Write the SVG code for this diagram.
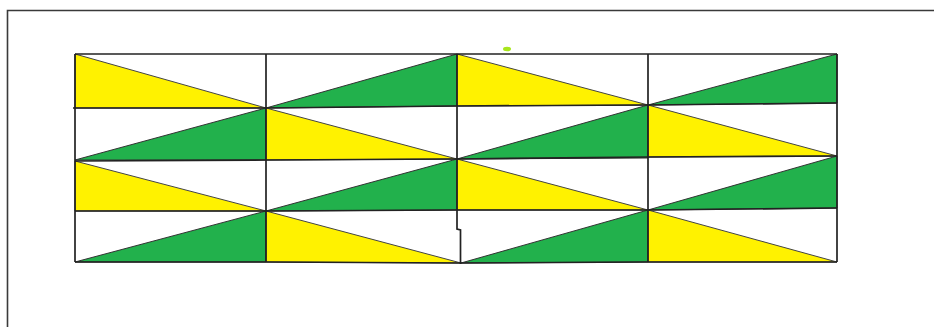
<svg xmlns="http://www.w3.org/2000/svg" width="934" height="327" viewBox="0 0 934 327">
<style>
.y{fill:#FFF200;stroke:#444;stroke-width:1}
.g{fill:#22B14C;stroke:#333;stroke-width:1}
.ln{stroke:#222;stroke-width:1.7;fill:none}
.fr{stroke:#3a3a3a;stroke-width:1.6;fill:none}
</style>
<rect width="934" height="327" fill="#fff"/>
<g id="frame">
<path class="fr" d="M7.5 327 V10.5 H934"/>
</g>
<g id="triangles">
<polygon class="y" points="75,54 75,108 266,108"/>
<polygon class="g" points="266,108 457,54 457,106"/>
<polygon class="y" points="457,54 457,106 648,105"/>
<polygon class="g" points="648,105 837,54 837,103"/>
<polygon class="g" points="75,160 266,108 266,160"/>
<polygon class="y" points="266,108 266,160 457,159"/>
<polygon class="g" points="457,159 648,105 648,158"/>
<polygon class="y" points="648,105 648,157 837,156"/>
<polygon class="y" points="75,161 75,211 266,211"/>
<polygon class="g" points="266,211 457,159 457,210"/>
<polygon class="y" points="457,159 457,210 648,210"/>
<polygon class="g" points="648,210 837,156 837,208"/>
<polygon class="g" points="75,262 266,211 266,262"/>
<polygon class="y" points="266,211 266,262 461,263"/>
<polygon class="g" points="461,263 648,210 648,262"/>
<polygon class="y" points="648,210 648,262 837,262"/>
</g>
<g id="grid">
<path class="ln" d="M75 54 H837"/>
<path class="ln" d="M73 108 L266 108 L457 106 L648 105 L837 103"/>
<path class="ln" d="M75 161 L266 160 L457 159 L648 157 L837 156"/>
<path class="ln" d="M75 211 L266 211 L457 210 L648 210 L837 208"/>
<path class="ln" d="M75 262 L266 262 L461 263 L648 262 L837 262"/>
<path class="ln" d="M75 54 V262"/>
<path class="ln" d="M266 54 V262"/>
<path class="ln" d="M457 54 V229 L460.5 230 V264"/>
<path class="ln" d="M648 54 V262"/>
<path class="ln" d="M837 54 V262"/>
</g>
<g id="dot">
<ellipse cx="507" cy="49" rx="4" ry="2.2" fill="#A8E61D"/>
</g>
</svg>
